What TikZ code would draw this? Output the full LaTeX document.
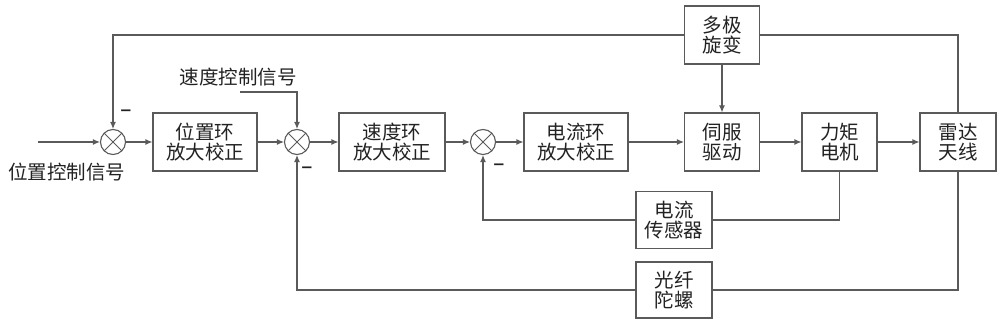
\documentclass[tikz,border=0pt]{standalone}
\usepackage{fontspec}
\setmainfont{Noto Sans CJK SC}
\newfontfamily\symfont{DejaVu Sans}
\usetikzlibrary{arrows.meta}
\definecolor{ln}{HTML}{5A5A5A}
\definecolor{tx}{HTML}{222222}
\begin{document}
\begin{tikzpicture}[x=1pt,y=-1pt,
  every node/.style={text=tx},
  blk/.style={draw=ln, line width=1.1pt, minimum height=58pt, inner sep=0pt, align=center, font=\fontsize{19.5}{20.5}\selectfont},
  sumnode/.style={circle, draw=ln, line width=1.1pt, minimum size=25pt, inner sep=0pt,
    path picture={
      \draw[ln, line width=1pt] ([shift={(45:12.5pt)}]path picture bounding box.center) -- ([shift={(225:12.5pt)}]path picture bounding box.center);
      \draw[ln, line width=1pt] ([shift={(135:12.5pt)}]path picture bounding box.center) -- ([shift={(315:12.5pt)}]path picture bounding box.center);
    }},
  conn/.style={draw=ln, line width=1.1pt},
  arr/.style={conn, -{Latex[length=7pt,width=6pt]}},
  lbl/.style={font=\fontsize{19.5}{20.5}\selectfont, inner sep=0pt},
  minus/.style={font=\symfont\bfseries\fontsize{15}{15}\selectfont, inner sep=0pt}
]
\useasboundingbox (0,0) rectangle (1004,320);

% summing junctions
\node[sumnode] (s1) at (113,142) {};
\node[sumnode] (s2) at (297,142) {};
\node[sumnode] (s3) at (483,142) {};

% blocks
\node[blk, minimum width=104pt] (b1) at (205,142) {位置环\\放大校正};
\node[blk, minimum width=106pt] (b2) at (392,142) {速度环\\放大校正};
\node[blk, minimum width=104pt] (b3) at (576,142) {电流环\\放大校正};
\node[blk, minimum width=75pt] (servo) at (722,142) {伺服\\驱动};
\node[blk, minimum width=75pt] (motor) at (839.5,142) {力矩\\电机};
\node[blk, minimum width=76pt] (ant) at (958,142) {雷达\\天线};
\node[blk, minimum width=75pt] (res) at (722,35) {多极\\旋变};
\node[blk, minimum width=76pt, minimum height=57pt] (sens) at (674,220) {电流\\传感器};
\node[blk, minimum width=76pt, minimum height=56pt] (gyro) at (674,290) {光纤\\陀螺};

% labels
\node[lbl] (posin) at (67,172) {位置控制信号};
\node[lbl] (spdin) at (238,77) {速度控制信号};
\node[minus] (m1) at (126,113) {−};
\node[minus] (m2) at (307,170) {−};
\node[minus] (m3) at (499,167) {−};

% coordinates
\coordinate (inL) at (38,142);
\coordinate (spdL) at (240,92);

% forward path
\draw[arr] (inL) -- (s1.west);
\draw[arr] (s1.east) -- (b1.west);
\draw[arr] (b1.east) -- (s2.west);
\draw[arr] (s2.east) -- (b2.west);
\draw[arr] (b2.east) -- (s3.west);
\draw[arr] (s3.east) -- (b3.west);
\draw[arr] (b3.east) -- (servo.west);
\draw[arr] (servo.east) -- (motor.west);
\draw[arr] (motor.east) -- (ant.west);
\draw[arr] (res.south) -- (servo.north);

% speed command
\draw[arr] (spdL) -| (s2.north);

% position feedback via resolver
\draw[conn] (ant.north) |- (res.east);
\draw[arr] (res.west) -| (s1.north);

% current feedback
\draw[conn] (motor.south) |- (sens.east);
\draw[arr] (sens.west) -| (s3.south);

% gyro feedback
\draw[conn] (ant.south) |- (gyro.east);
\draw[arr] (gyro.west) -| (s2.south);
\end{tikzpicture}
\end{document}
